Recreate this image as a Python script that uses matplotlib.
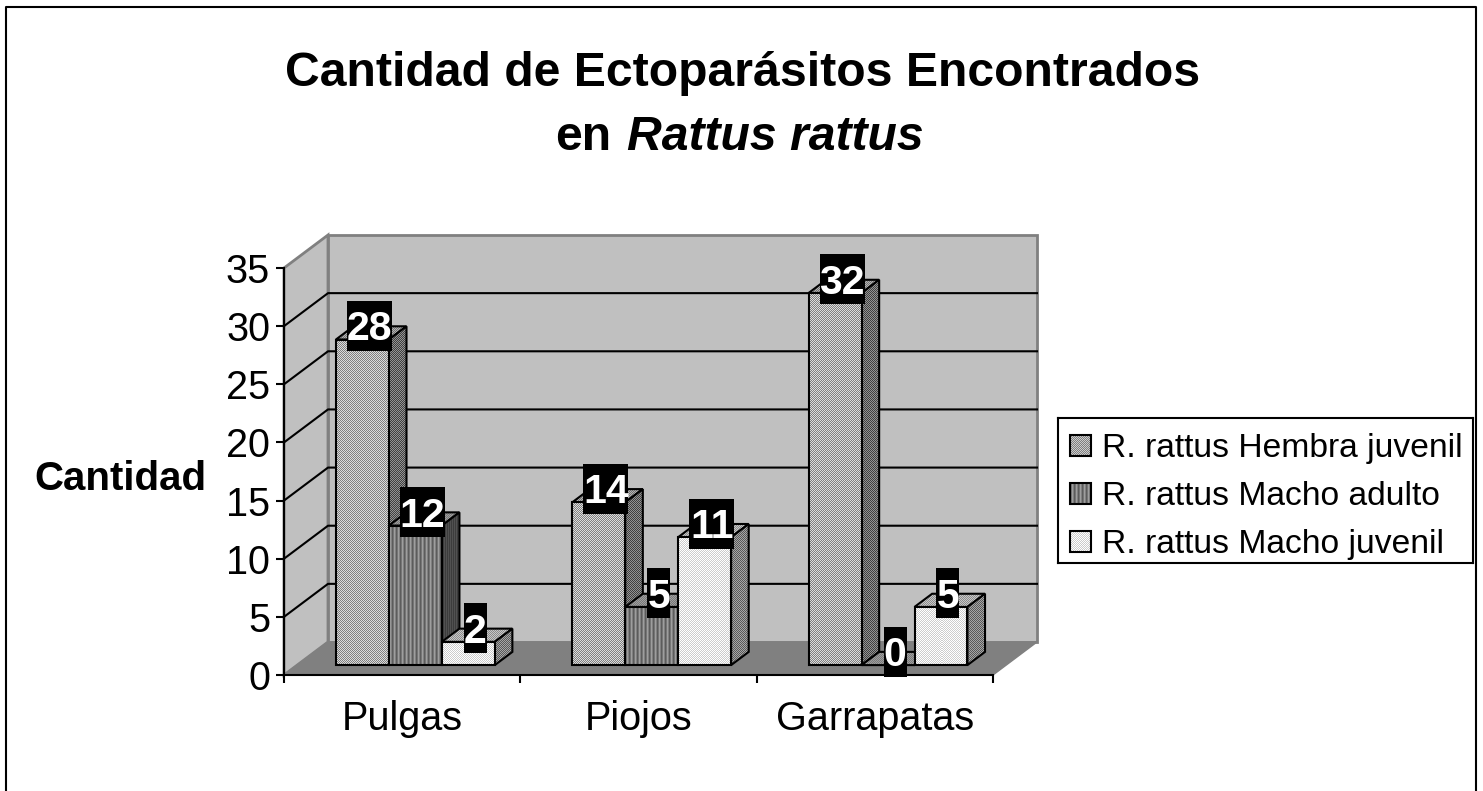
import numpy as np
import matplotlib
matplotlib.use('Agg')
import matplotlib.pyplot as plt
from matplotlib.lines import Line2D
from matplotlib.patches import Polygon, Rectangle
from matplotlib.transforms import IdentityTransform

plt.rcParams['font.family'] = ['Liberation Sans', 'DejaVu Sans']

# Data
categories = ['Pulgas', 'Piojos', 'Garrapatas']
series_names = ['R. rattus Hembra juvenil', 'R. rattus Macho adulto', 'R. rattus Macho juvenil']
hembra_juvenil = [28, 14, 32]
macho_adulto = [12, 5, 0]
macho_juvenil = [2, 11, 5]
y_ticks = [0, 5, 10, 15, 20, 25, 30, 35]

W, H = 1483, 791
fig = plt.figure(figsize=(W / 100, H / 100), dpi=100, facecolor='white')

# outer frame, the bottom edge is cut off in the original
fig.add_artist(Line2D([6 / W, 6 / W, 1476 / W, 1476 / W], [0, 1 - 7 / H, 1 - 7 / H, 0],
                      transform=fig.transFigure, color='black', lw=1.5))

# front plane of the 3D box is the axes itself
ax = fig.add_axes([284 / W, 1 - 675 / H, 709 / W, 407 / H])
ax.set_xlim(0, 3)
ax.set_ylim(0, 35)
ax.patch.set_visible(False)

DX = 44 / (709 / 3)  # box depth in category units
DY = 33 / (407 / 35)  # box depth in value units


# pixel textures, gray levels
def tile(kind, w, h):
    yy, xx = np.mgrid[0:h, 0:w]
    checker = (xx + yy) % 2
    if kind == 'stripes':
        return np.array([0.36, 0.46, 0.62, 0.5])[xx % 4]
    if kind == 'stripes_dark':
        return np.where(xx % 2 == 0, 0.24, 0.32)
    lo, hi = kind
    return np.where(checker == 0, lo, hi)


def textured(verts, kind, z):
    verts = np.array(verts)
    px = ax.transData.transform(verts)
    x0, y0 = np.floor(px.min(axis=0))
    x1, y1 = np.ceil(px.max(axis=0))
    w, h = int(x1 - x0), int(y1 - y0)
    (dx0, dy0), (dx1, dy1) = ax.transData.inverted().transform([(x0, y0), (x1, y1)])
    poly = Polygon(verts, closed=True, fc='none', ec='black', lw=1.5, zorder=z + 0.1, clip_on=False)
    ax.add_patch(poly)
    im = ax.imshow(tile(kind, w, h), extent=(dx0, dx1, dy0, dy1), cmap='gray', vmin=0, vmax=1,
                   interpolation='nearest', aspect='auto', origin='lower', zorder=z)
    im.set_clip_path(poly)


# walls and floor
ax.add_patch(Polygon([(0, 0), (DX, DY), (DX, 35 + DY), (0, 35)], fc='#c0c0c0', ec='#808080', lw=2,
                     clip_on=False, zorder=1))
ax.add_patch(Polygon([(DX, DY), (3 + DX, DY), (3 + DX, 35 + DY), (DX, 35 + DY)], fc='#c0c0c0', ec='#808080',
                     lw=2, clip_on=False, zorder=1))
ax.add_patch(Polygon([(0, 0), (3, 0), (3 + DX, DY), (DX, DY)], fc='#808080', ec='#808080', lw=1,
                     clip_on=False, zorder=1))

# gridlines on the walls
for v in y_ticks[1:-1]:
    ax.plot([0, DX, 3 + DX], [v, v + DY, v + DY], color='black', lw=1.5, clip_on=False, zorder=2)

# bars
series = [hembra_juvenil, macho_adulto, macho_juvenil]
front_tex = [(0.5, 0.86), 'stripes', (0.8, 1.0)]
side_tex = [(0.25, 0.58), 'stripes_dark', (0.35, 0.65)]
top_tex = [(0.45, 0.7), (0.48, 0.62), (0.55, 0.78)]
bar_w = 0.224
front = 0.3
back = 0.7
z = 3
for i, cat in enumerate(categories):
    for s, vals in enumerate(series):
        v = vals[i]
        x0 = i + 0.164 + s * bar_w + front * DX
        x1 = x0 + bar_w
        y0 = front * DY
        ox = (back - front) * DX
        oy = (back - front) * DY
        textured([(x0, y0 + v), (x1, y0 + v), (x1 + ox, y0 + v + oy), (x0 + ox, y0 + v + oy)], top_tex[s], z)
        if v > 0:
            textured([(x1, y0), (x1 + ox, y0 + oy), (x1 + ox, y0 + v + oy), (x1, y0 + v)], side_tex[s], z + 1)
            textured([(x0, y0), (x1, y0), (x1, y0 + v), (x0, y0 + v)], front_tex[s], z + 2)
        z += 3
        # data label: black box a fixed size in pixels, white digits inside
        label = str(v)
        cx, cy = ax.transData.transform((x0 + bar_w / 2, y0 + v)) + np.array([7, 13.5])
        box_w = 22 * len(label) + 1
        ax.add_patch(Rectangle((cx - box_w / 2, cy - 25), box_w, 50, transform=IdentityTransform(),
                               fc='black', ec='none', clip_on=False, zorder=100))
        ax.text(cx, cy - 14.5, label, transform=IdentityTransform(), ha='center', va='baseline', color='white',
                fontsize=29.5, fontweight='bold', zorder=101, clip_on=False)

# axes
for side in ['top', 'right']:
    ax.spines[side].set_visible(False)
for side in ['left', 'bottom']:
    ax.spines[side].set_linewidth(1.5)
    ax.spines[side].set_zorder(50)
ax.set_yticks(y_ticks)
ax.tick_params(axis='y', labelsize=28.5, length=6, width=1.5, pad=4)
ax.set_xticks([0, 1, 2, 3])
ax.set_xticklabels([])
ax.set_xticks(np.arange(len(categories)) + 0.5, labels=categories, minor=True)
ax.tick_params(axis='x', which='major', length=6, width=1.5)
ax.tick_params(axis='x', which='minor', length=0, labelsize=28.5, pad=18)
for lab in ax.get_yticklabels():
    lab.set_verticalalignment('center_baseline')

fig.text(120 / W, 1 - 479 / H, 'Cantidad', ha='center', va='center', fontsize=29, fontweight='bold')

# title
fig.text(743 / W, 1 - 73 / H, 'Cantidad de Ectoparásitos Encontrados', ha='center', va='center',
         fontsize=34.7, fontweight='bold')
fig.text(555 / W, 1 - 138 / H, 'en', ha='left', va='center', fontsize=34.7, fontweight='bold')
fig.text(627 / W, 1 - 138 / H, 'Rattus rattus', ha='left', va='center', fontsize=34.7, fontweight='bold',
         style='italic')

# legend drawn by hand so the swatches can keep the textures
leg = fig.add_axes([1058 / W, 1 - 563 / H, 415 / W, 145 / H])
leg.set_xticks([])
leg.set_yticks([])
for spine in leg.spines.values():
    spine.set_linewidth(1.5)
legend_tex = [(0.5, 0.8), 'stripes', (0.8, 1.0)]
for s, name in enumerate(series_names):
    yc = 445.5 + s * 48
    leg.imshow(tile(legend_tex[s], 21, 21), extent=(1070, 1091, yc + 10.5, yc - 10.5), cmap='gray', vmin=0, vmax=1,
               interpolation='nearest', aspect='auto', origin='lower')
    leg.add_patch(Rectangle((1070, yc - 10.5), 21, 21, fill=False, ec='black', lw=1.5))
    leg.text(1102, yc + 3, name, ha='left', va='center', fontsize=24.2)
leg.set_xlim(1058, 1473)
leg.set_ylim(563, 418)

fig.savefig('out.png', dpi=100)
